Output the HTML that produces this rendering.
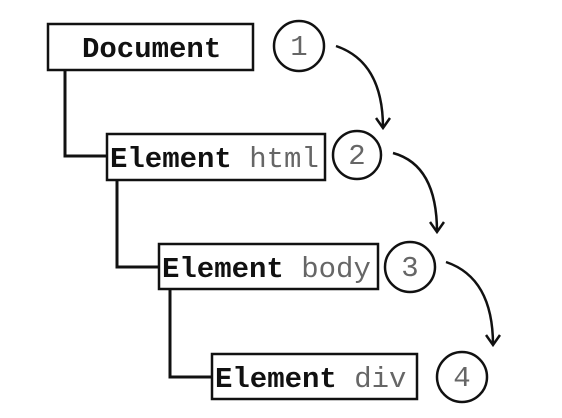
<!DOCTYPE html>
<html><head><meta charset="utf-8"><style>
body{margin:0;background:#fff}
svg{display:block}
text{font-family:"Liberation Mono",monospace;font-size:29px}
</style></head><body>
<svg width="562" height="418" viewBox="0 0 562 418" xmlns="http://www.w3.org/2000/svg">
<defs><marker id="a" markerWidth="16" markerHeight="16" refX="12" refY="8" orient="auto" markerUnits="userSpaceOnUse"><path d="M2,1 L12,8 L2,15" fill="none" stroke="#111" stroke-width="2.5"/></marker></defs>
<g fill="none" stroke="#111" stroke-width="2.5">
<rect x="48" y="24" width="205" height="46"/>
<rect x="107" y="134" width="218" height="46"/>
<rect x="159" y="244" width="219" height="45"/>
<rect x="212" y="354" width="205" height="45"/>
<path d="M65,70 V156 H107 M117,180 V267 H159 M170,289 V377 H212" stroke-width="3"/>
<circle cx="299" cy="46" r="25"/>
<circle cx="357" cy="155" r="24"/>
<circle cx="410" cy="267" r="25"/>
<circle cx="462" cy="377" r="25"/>
<path d="M336,46 Q383,62 383,128" marker-end="url(#a)"/>
<path d="M393,153 Q437,165 437,232" marker-end="url(#a)"/>
<path d="M446,262 Q493,278 493,345" marker-end="url(#a)"/>
</g>
<g fill="#111">
<text x="82" y="57" font-weight="bold">Document</text>
<text x="110" y="167"><tspan font-weight="bold">Element</tspan><tspan fill="#666"> html</tspan></text>
<text x="162" y="277"><tspan font-weight="bold">Element</tspan><tspan fill="#666"> body</tspan></text>
<text x="215" y="387"><tspan font-weight="bold">Element</tspan><tspan fill="#666"> div</tspan></text>
<g fill="#666" text-anchor="middle">
<text x="299" y="55" font-size="24">1</text>
<text x="357" y="164" font-size="24">2</text>
<text x="410" y="276" font-size="24">3</text>
<text x="462" y="386" font-size="24">4</text>
</g>
</g>
</svg>
</body></html>
